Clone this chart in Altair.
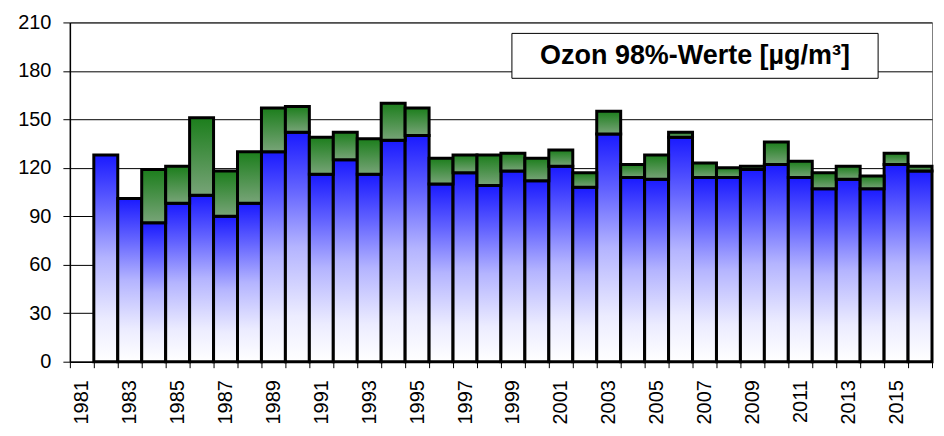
import altair as alt
import pandas as pd

years = [str(y) for y in range(1981, 2017)]
blue_vals = [None, 128, 101, 86, 98, 103, 90, 98, 130, 142, 116, 125, 116, 137, 140, 110,
             117, 109, 118, 112, 121, 108, 141, 114, 113, 139, 114, 114, 119, 122, 114,
             107, 113, 107, 122, 118]
total_vals = [None, 128, 101, 119, 121, 151, 118, 130, 157, 158, 139, 142, 138, 160, 157, 126,
              128, 128, 129, 126, 131, 117, 155, 122, 128, 142, 123, 120, 121, 136, 124,
              117, 121, 115, 129, 121]
y_ticks = [0, 30, 60, 90, 120, 150, 180, 210]
title_text = "Ozon 98%-Werte [µg/m³]"

df = pd.DataFrame({"year": years, "blue": blue_vals, "total": total_vals})

FONT = "Liberation Sans"
W, H = 864, 340

x_enc = alt.X("year:N", sort=years,
              scale=alt.Scale(domain=years, paddingInner=0, paddingOuter=0),
              axis=alt.Axis(title=None, labelAngle=-90, tickBand="extent",
                            labelExpr="toNumber(datum.value) % 2 == 1 ? datum.value : ''",
                            labelFontSize=20, labelFont=FONT, labelColor="black",
                            labelPadding=12, tickSize=6, tickColor="black",
                            domainColor="black", domainWidth=1.5, labelOverlap=False))
y_scale = alt.Scale(domain=[0, 210], nice=False)
y_axis = alt.Axis(title=None, values=y_ticks, grid=True, gridColor="black", gridWidth=1,
                  labelFontSize=20, labelFont=FONT, labelColor="black", labelPadding=12,
                  tickSize=7, tickColor="black", domainColor="black", domainWidth=1.5)

blue_grad = alt.LinearGradient(gradient="linear", x1=0, y1=0, x2=0, y2=1,
                               stops=[alt.GradientStop(offset=0, color="#1a1aff"),
                                      alt.GradientStop(offset=0.25, color="#6464ff"),
                                      alt.GradientStop(offset=0.5, color="#b4b4ff"),
                                      alt.GradientStop(offset=0.8, color="#ececff"),
                                      alt.GradientStop(offset=1, color="#ffffff")])
green_grad = alt.LinearGradient(gradient="linear", x1=0, y1=0, x2=0, y2=1,
                                stops=[alt.GradientStop(offset=0, color="#1c7e1c"),
                                       alt.GradientStop(offset=1, color="#78a478")])

base = alt.Chart(df)

blue = base.transform_filter("isValid(datum.blue)").mark_bar(
    color=blue_grad, stroke="black", strokeWidth=3
).encode(x=x_enc, y=alt.Y("blue:Q", scale=y_scale, axis=y_axis), y2=alt.value(H))

green = base.transform_filter("isValid(datum.total) && datum.total > datum.blue").mark_bar(
    color=green_grad, stroke="black", strokeWidth=3
).encode(x=x_enc, y=alt.Y("total:Q", scale=y_scale, axis=y_axis), y2="blue:Q")

box = alt.Chart(pd.DataFrame({"t": [title_text]})).mark_rect(
    fill="white", stroke="black", strokeWidth=1
).encode(x=alt.value(443), x2=alt.value(810), y=alt.value(11), y2=alt.value(56))

txt = alt.Chart(pd.DataFrame({"t": [title_text]})).mark_text(
    font=FONT, fontSize=27, fontWeight="bold", color="black", align="center", baseline="middle"
).encode(x=alt.value(626.5), y=alt.value(34), text="t:N")

chart = alt.layer(blue, green, box, txt).properties(
    width=W, height=H,
    autosize=alt.AutoSizeParams(type="none"),
    padding={"left": 62, "top": 14, "right": 4, "bottom": 70},
    background="white"
).configure_view(stroke="#808080", strokeWidth=1)

chart.save("out.html", embed_options={"renderer": "svg", "actions": False})
